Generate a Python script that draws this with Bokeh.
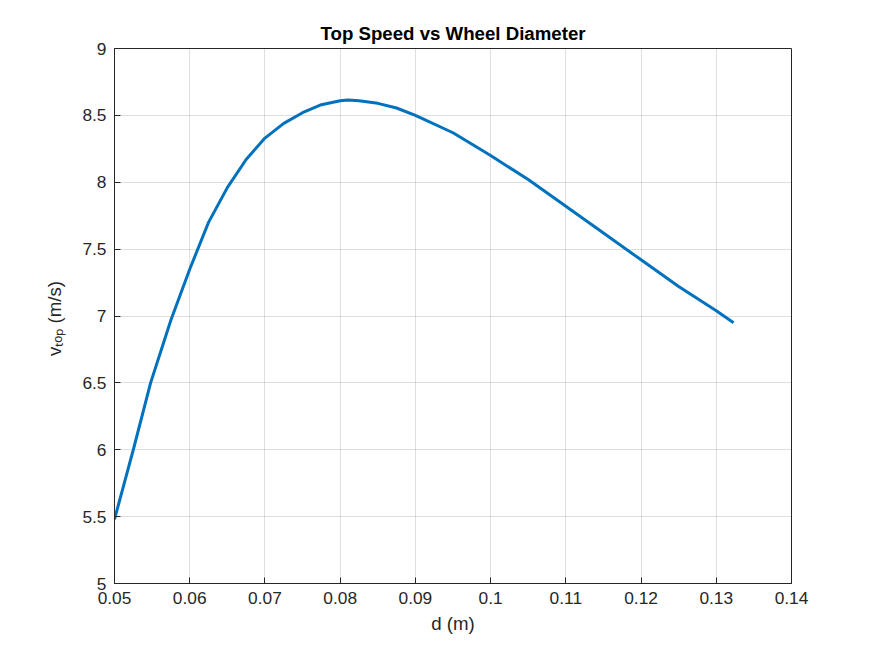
from bokeh.plotting import figure
from bokeh.embed import file_html
from bokeh.resources import INLINE
from bokeh.models import FixedTicker, Range1d

d = [0.05, 0.0525, 0.0548, 0.0575, 0.06, 0.0625, 0.065, 0.0675, 0.07, 0.0725, 0.075,
     0.0775, 0.08, 0.081, 0.0825, 0.085, 0.0875, 0.09, 0.095, 0.1, 0.105, 0.11,
     0.115, 0.12, 0.125, 0.13, 0.1323]
v = [5.48, 6.0, 6.5, 6.97, 7.35, 7.7, 7.96, 8.17, 8.33, 8.44, 8.52,
     8.58, 8.61, 8.615, 8.61, 8.59, 8.555, 8.5, 8.37, 8.2, 8.02, 7.82,
     7.62, 7.42, 7.22, 7.04, 6.95]
x_ticks = [0.05, 0.06, 0.07, 0.08, 0.09, 0.1, 0.11, 0.12, 0.13, 0.14]
y_ticks = [5, 5.5, 6, 6.5, 7, 7.5, 8, 8.5, 9]

p = figure(frame_width=677, frame_height=535, min_border_left=114, min_border_top=48,
           min_border_bottom=57, min_border_right=68,
           x_range=Range1d(0.05, 0.14), y_range=Range1d(5, 9),
           output_backend="svg", toolbar_location=None, tools="")
p.title.text = "Top Speed vs Wheel Diameter"
p.title.align = "center"
p.title.text_font = "Arial"
p.title.text_font_size = "14pt"
p.title.text_font_style = "bold"
p.title.text_color = "black"
p.outline_line_color = "#262626"

p.line(d, v, line_width=3, color="#0072BD")

p.xaxis.ticker = FixedTicker(ticks=x_ticks)
p.yaxis.ticker = FixedTicker(ticks=y_ticks)
p.xaxis.major_label_overrides = {t: f"{t:g}" for t in x_ticks}
p.yaxis.major_label_overrides = {t: f"{t:g}" for t in y_ticks}
for ax in (p.xaxis, p.yaxis):
    ax.major_tick_in = 6
    ax.major_tick_out = 0
    ax.major_label_standoff = 8
    ax.minor_tick_line_color = None
    ax.axis_line_color = "#262626"
    ax.major_tick_line_color = "#262626"
    ax.major_label_text_font = "Arial"
    ax.major_label_text_font_size = "13pt"
    ax.major_label_text_color = "#262626"
    ax.axis_label_text_font = "Arial"
    ax.axis_label_text_font_size = "14pt"
    ax.axis_label_text_font_style = "normal"
    ax.axis_label_text_color = "#262626"
p.xaxis.axis_label = "d (m)"
p.yaxis.axis_label = "v\u209c\u2092\u209a  (m/s)"
p.xaxis.axis_label_standoff = 6
p.yaxis.axis_label_standoff = 14
p.grid.grid_line_color = "#262626"
p.grid.grid_line_alpha = 0.15

open("out.html", "w").write(file_html(p, INLINE))
